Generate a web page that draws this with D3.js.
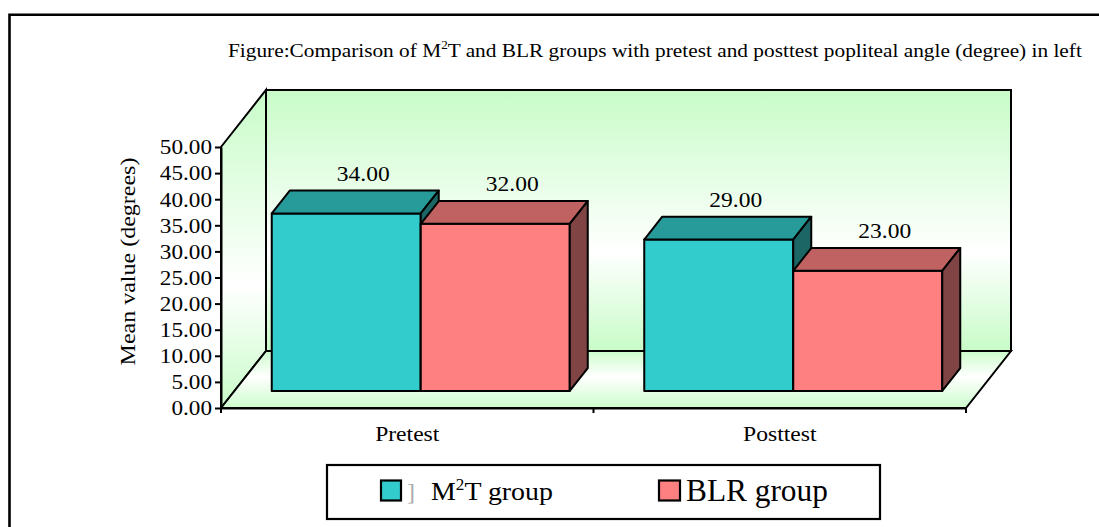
<!DOCTYPE html>
<html>
<head>
<meta charset="utf-8">
<script src="https://cdn.jsdelivr.net/npm/d3@7"></script>
<style>
  body { margin: 0; background: #fff; }
  svg { display: block; }
  text { font-family: "Liberation Serif", "Times New Roman", serif; fill: #000; }
</style>
</head>
<body>
<svg id="chart" width="1099" height="527"></svg>
<script>
// ---- data ----
const categories = ["Pretest", "Posttest"];
const seriesKeys = ["m2t", "blr"];
const m2tValues = [34.00, 29.00];
const blrValues = [32.00, 23.00];
const yTickValues = [0, 5, 10, 15, 20, 25, 30, 35, 40, 45, 50];
const titleText = ["Figure:Comparison of M", "2", "T and BLR groups with pretest and posttest popliteal angle (degree) in left"];
const yAxisTitle = "Mean value (degrees)";

const seriesValues = { m2t: m2tValues, blr: blrValues };
const palette = {
  m2t: { front: "#33CCCC", top: "#279A9A", side: "#1C6666" },
  blr: { front: "#FF8080", top: "#C06262", side: "#804444" }
};

const svg = d3.select("#chart");

// plot geometry
const depthX = 45, depthY = -57;           // full depth of the 3-D box
const barZ0 = 0.3, barZ1 = 0.7;             // bars occupy the middle of the depth
const y = d3.scaleLinear().domain([0, 50]).range([408, 147]);
const x = d3.scaleBand().domain(categories).range([221, 966]);
const xs = d3.scaleBand().domain(seriesKeys).range([0, x.bandwidth()]).paddingOuter(0.25);
const proj = (px, py, z) => [px + depthX * z, py + depthY * z];

// gradients for the walls and floor
const defs = svg.append("defs");
function grad(id, stops) {
  const g = defs.append("linearGradient").attr("id", id)
    .attr("x1", 0).attr("y1", 0).attr("x2", 0).attr("y2", 1);
  stops.forEach(([o, c]) => g.append("stop").attr("offset", o).attr("stop-color", c));
}
grad("wallGrad", [[0, "#C8FCC8"], [0.62, "#FFFFFF"], [1, "#C8FCC8"]]);
grad("floorGrad", [[0, "#CCFDCC"], [0.45, "#FFFFFF"], [1, "#CCFDCC"]]);

// outer frame (top and left edges)
svg.append("path").attr("d", "M9.5,527 V14.8 H1099")
  .attr("fill", "none").attr("stroke", "#000").attr("stroke-width", 2.6);

// horizontal fit of a text block, anchored at x0
function stretchTo(sel, x0, target) {
  const w = sel.node().getBBox().width;
  const s = target / w;
  sel.attr("transform", `translate(${x0},0) scale(${s},1) translate(${-x0},0)`);
}

// title
const title = svg.append("text").attr("x", 228).attr("y", 57).style("font-size", "19.5px");
title.append("tspan").text(titleText[0]);
title.append("tspan").text(titleText[1]).attr("dy", -8).style("font-size", "12px");
title.append("tspan").text(titleText[2]).attr("dy", 8);
stretchTo(title, 228, 855);

// walls
const x0 = x.range()[0], x1 = x.range()[1];
const yb = y(0), yt = y(50);
const pt = (p) => p.join(",");
svg.append("polygon")
  .attr("points", [proj(x0, yb, 1), proj(x1, yb, 1), proj(x1, yt, 1), proj(x0, yt, 1)].map(pt).join(" "))
  .attr("fill", "url(#wallGrad)").attr("stroke", "#000").attr("stroke-width", 2);
svg.append("polygon")
  .attr("points", [[x0, yb], [x0, yt], proj(x0, yt, 1), proj(x0, yb, 1)].map(pt).join(" "))
  .attr("fill", "url(#wallGrad)").attr("stroke", "#000").attr("stroke-width", 2);
svg.append("polygon")
  .attr("points", [[x0, yb], [x1, yb], proj(x1, yb, 1), proj(x0, yb, 1)].map(pt).join(" "))
  .attr("fill", "url(#floorGrad)").attr("stroke", "#000").attr("stroke-width", 2);

// y axis
const yAxis = svg.append("g").attr("transform", `translate(${x0},0)`)
  .call(d3.axisLeft(y).tickValues(yTickValues).tickFormat(d3.format(".2f")).tickSize(6).tickSizeOuter(0));
yAxis.select(".domain").attr("stroke-width", 2);
yAxis.selectAll(".tick line").attr("stroke-width", 2);
yAxis.selectAll(".tick text")
  .attr("font-family", null).style("font-size", "20px").attr("x", -9).attr("dy", "0.34em")
  .attr("transform", "translate(-9,0) scale(1.16,1) translate(9,0)");

// x axis (front edge of the floor)
const xAxis = svg.append("g").attr("transform", `translate(0,${yb})`)
  .call(d3.axisBottom(x).tickSize(0).tickPadding(19));
xAxis.select(".domain").attr("stroke-width", 2);
xAxis.selectAll(".tick text").attr("font-family", null).style("font-size", "20px")
  .attr("transform", "scale(1.18,1)");
const bounds = categories.map(c => x(c)).concat([x1]);
xAxis.selectAll(".bound").data(bounds).join("line").attr("class", "bound")
  .attr("x1", d => d).attr("x2", d => d).attr("y1", 0).attr("y2", 5)
  .attr("stroke", "#000").attr("stroke-width", 2);

// bars
const bw = xs.bandwidth();
const bars = [];
categories.forEach((c, i) => {
  seriesKeys.forEach(k => {
    bars.push({ cat: c, key: k, value: seriesValues[k][i], left: x(c) + xs(k) });
  });
});
const barG = svg.append("g");
bars.forEach(b => {
  const col = palette[b.key];
  const l = b.left, r = b.left + bw, top = y(b.value), bot = y(0);
  const face = (pts, fill) => barG.append("polygon").attr("points", pts.map(pt).join(" "))
    .attr("fill", fill).attr("stroke", "#000").attr("stroke-width", 2).attr("stroke-linejoin", "round");
  face([proj(l, bot, barZ0), proj(r, bot, barZ0), proj(r, top, barZ0), proj(l, top, barZ0)], col.front);
  face([proj(l, top, barZ0), proj(r, top, barZ0), proj(r, top, barZ1), proj(l, top, barZ1)], col.top);
  face([proj(r, bot, barZ0), proj(r, bot, barZ1), proj(r, top, barZ1), proj(r, top, barZ0)], col.side);
});

// value labels above each bar
const fmt = d3.format(".2f");
svg.append("g").selectAll("text").data(bars).join("text")
  .attr("text-anchor", "middle")
  .attr("transform", d => {
    const [cx, cy] = proj(d.left + bw / 2, y(d.value), barZ1);
    return `translate(${cx - 1},${cy - 10}) scale(1.12,1)`;
  })
  .style("font-size", "21px")
  .text(d => fmt(d.value));

// y axis title
svg.append("text").attr("text-anchor", "middle")
  .attr("transform", "translate(135,261.5) rotate(-90) scale(1.2,1)")
  .style("font-size", "20px").text(yAxisTitle);

// legend
const lg = svg.append("g");
lg.append("rect").attr("x", 327).attr("y", 465).attr("width", 553).attr("height", 54)
  .attr("fill", "#fff").attr("stroke", "#000").attr("stroke-width", 2.2);
lg.append("rect").attr("x", 381).attr("y", 480.5).attr("width", 20).attr("height", 20)
  .attr("fill", palette.m2t.front).attr("stroke", "#000").attr("stroke-width", 2.2);
lg.append("text").attr("x", 407).attr("y", 500).style("font-size", "24px").style("fill", "#aaa").text("]");
const lt1 = lg.append("text").attr("x", 431).attr("y", 500).style("font-size", "26px");
lt1.append("tspan").text("M");
lt1.append("tspan").text("2").attr("dy", -10).style("font-size", "16px");
lt1.append("tspan").text("T group").attr("dy", 10);
stretchTo(lt1, 431, 122);
lg.append("rect").attr("x", 659).attr("y", 480.5).attr("width", 21).attr("height", 20)
  .attr("fill", palette.blr.front).attr("stroke", "#000").attr("stroke-width", 2.2);
const lt2 = lg.append("text").attr("x", 686).attr("y", 501.5).style("font-size", "31px").text("BLR group");
stretchTo(lt2, 686, 142);
</script>
</body>
</html>
